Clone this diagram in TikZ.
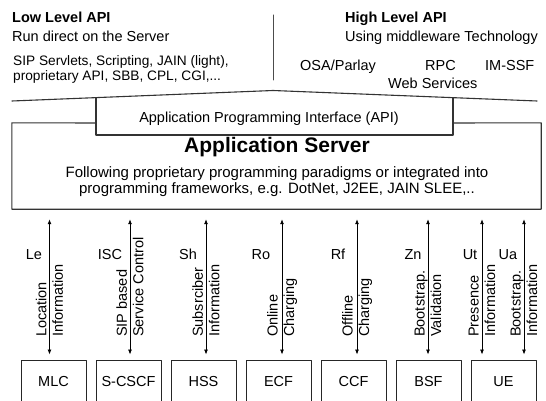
\documentclass[tikz,border=0pt]{standalone}
\usepackage{fontspec}
\setmainfont{Liberation Sans}
\usetikzlibrary{arrows.meta}

\begin{document}
\begin{tikzpicture}[x=1pt,y=-1pt, line cap=round,line join=round,
  txt/.style={inner sep=0pt, anchor=base west, font=\fontsize{14.5}{15}\selectfont},
  ctxt/.style={inner sep=0pt, anchor=base, font=\fontsize{14.5}{15}\selectfont},
  frame/.style={draw=black!80, line width=1.1pt},
  box/.style={draw=black!85, line width=0.9pt, minimum width=65pt, minimum height=44pt, inner sep=0pt, font=\fontsize{14.5}{15}\selectfont},
  link/.style={{Latex[length=5pt,width=4pt]}-{Latex[length=5pt,width=4pt]}, line width=0.8pt},
  vtxt/.style={rotate=90, anchor=west, align=left, inner sep=0pt, font=\fontsize{14.5}{16.5}\selectfont}]
\clip (0,0) rectangle (546,401);

% low level side
\node[txt] (lowtitle) at (12,23) {\textbf{Low Level API}};
\node[txt] (lowsub) at (12,41.5) {Run direct on the Server};
\node[txt, font=\fontsize{13.7}{15}\selectfont] (lowa) at (13,65.5) {SIP Servlets, Scripting, JAIN (light),};
\node[txt, font=\fontsize{13.7}{15}\selectfont] (lowb) at (13,80.5) {proprietary API, SBB, CPL, CGI,...};
\draw[draw=black!70, line width=1pt] (273,15) -- (273,80);

% high level side
\node[txt] (hightitle) at (345,23) {\textbf{High Level API}};
\node[txt] (highsub) at (345,42) {Using middleware Technology};
\node[txt] (osa) at (300,70.5) {OSA/Parlay};
\node[txt] (rpc) at (425,70.5) {RPC};
\node[txt] (imssf) at (485,70.5) {IM-SSF};
\node[txt] (web) at (388,88.5) {Web Services};

% roof, API and server
\draw[frame] (12,101) -- (273,90.5) -- (537,101);
\draw[frame] (96,97.8) -- (96,135) -- (453,135) -- (453,97.7);
\node[ctxt] (api) at (269,122.5) {Application Programming Interface (API)};

\node[minimum width=529pt, minimum height=86pt, inner sep=0pt] (as) at (276.5,166) {};
\draw[frame] (96,123) -- (as.north west) -- (as.south west) -- (as.south east) -- (as.north east) -- (453,123);
\node[ctxt, font=\bfseries\fontsize{21}{24}\selectfont] (astitle) at (277,152.5) {Application Server};
\node[ctxt, font=\fontsize{15}{16}\selectfont] (asa) at (277,177) {Following proprietary programming paradigms or integrated into};
\node[ctxt, font=\fontsize{15}{16}\selectfont] (asb) at (277,193.5) {programming frameworks, e.g. DotNet, J2EE, JAIN SLEE,..};

% network elements
\node[box] (mlc) at (53.5,382) {MLC};
\node[box] (scscf) at (128.5,382) {S-CSCF};
\node[box] (hss) at (203.5,382) {HSS};
\node[box] (ecf) at (278.5,382) {ECF};
\node[box] (ccf) at (353.5,382) {CCF};
\node[box] (bsf) at (428.5,382) {BSF};
\node[box] (ue) at (503.5,382) {UE};

% interfaces
\draw[link] ([xshift=-4pt,yshift=5pt]mlc.north) -- ([xshift=-4pt,yshift=-10pt]mlc.north |- as.south);
\draw[link] ([xshift=1.5pt,yshift=5pt]scscf.north) -- ([xshift=1.5pt,yshift=-10pt]scscf.north |- as.south);
\draw[link] ([xshift=2.5pt,yshift=5pt]hss.north) -- ([xshift=2.5pt,yshift=-10pt]hss.north |- as.south);
\draw[link] ([xshift=3.5pt,yshift=5pt]ecf.north) -- ([xshift=3.5pt,yshift=-10pt]ecf.north |- as.south);
\draw[link] ([xshift=3.5pt,yshift=5pt]ccf.north) -- ([xshift=3.5pt,yshift=-10pt]ccf.north |- as.south);
\draw[link] ([xshift=-0.5pt,yshift=5pt]bsf.north) -- ([xshift=-0.5pt,yshift=-10pt]bsf.north |- as.south);
\draw[link] ([xshift=-21.5pt,yshift=5pt]ue.north) -- ([xshift=-21.5pt,yshift=-10pt]ue.north |- as.south);
\draw[link] ([xshift=20.5pt,yshift=5pt]ue.north) -- ([xshift=20.5pt,yshift=-10pt]ue.north |- as.south);

\node[ctxt] (le) at (34,259) {Le};
\node[ctxt] (isc) at (110,259) {ISC};
\node[ctxt] (sh) at (188,259) {Sh};
\node[ctxt] (ro) at (261,259) {Ro};
\node[ctxt] (rf) at (338,259) {Rf};
\node[ctxt] (zn) at (413,259) {Zn};
\node[ctxt] (ut) at (470,259) {Ut};
\node[ctxt] (ua) at (508,259) {Ua};

\node[vtxt] (leinfo) at (49.5,337) {Location\\Information};
\node[vtxt] (iscinfo) at (130,337) {SIP based\\Service Control};
\node[vtxt] (shinfo) at (206,337) {Subsrciber\\Information};
\node[vtxt] (roinfo) at (282,337) {Online\\Charging};
\node[vtxt] (rfinfo) at (357,337) {Offline\\Charging};
\node[vtxt] (zninfo) at (428,337) {Bootstrap.\\Validation};
\node[vtxt] (utinfo) at (482,337) {Presence\\Information};
\node[vtxt] (uainfo) at (524,337) {Bootstrap.\\Information};
\end{tikzpicture}
\end{document}
